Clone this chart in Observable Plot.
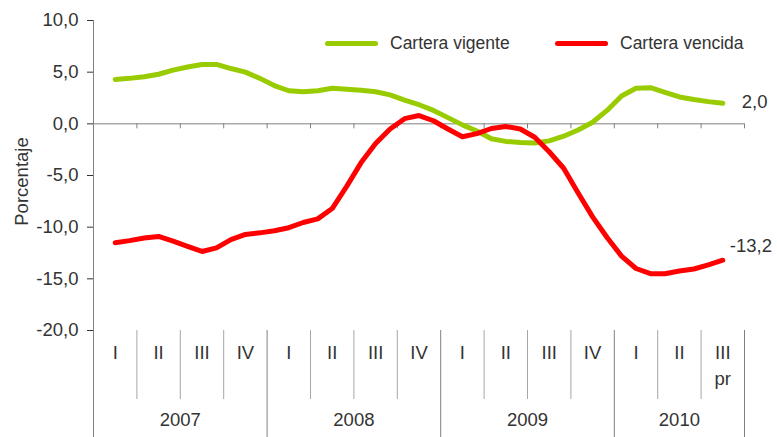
<!DOCTYPE html>
<html><head><meta charset="utf-8">
<script src="https://cdn.jsdelivr.net/npm/d3@7"></script>
<script src="https://cdn.jsdelivr.net/npm/@observablehq/plot@0.6"></script>
<style>
body{margin:0;background:#fff;}
#chart{position:relative;width:777px;height:437px;font-family:"Liberation Sans",Arial,sans-serif;}
#chart svg{display:block;overflow:visible;}
.leg{position:absolute;top:33px;height:20px;display:flex;align-items:center;font-size:17.5px;color:#333;white-space:nowrap;}
.leg .sw{display:inline-block;width:53px;height:5px;border-radius:3px;margin-right:12px;}
</style></head><body><div id="chart"></div>
<script>
// monthly values, Feb 2007 .. Aug 2010 (plotted at the month's position within the quarter axis)
const vigente = [4.3, 4.4, 4.55, 4.8, 5.2, 5.5, 5.75, 5.75, 5.35, 5.0, 4.4, 3.7, 3.2, 3.1, 3.2, 3.45, 3.35, 3.25, 3.1, 2.8, 2.3, 1.85, 1.3, 0.6, -0.1, -0.7, -1.45, -1.7, -1.8, -1.85, -1.65, -1.2, -0.6, 0.15, 1.3, 2.7, 3.45, 3.5, 3.05, 2.6, 2.35, 2.15, 2.0];
const vencida = [-11.5, -11.3, -11.05, -10.9, -11.35, -11.85, -12.35, -12.0, -11.2, -10.7, -10.55, -10.35, -10.05, -9.55, -9.2, -8.2, -6.05, -3.75, -1.9, -0.5, 0.5, 0.8, 0.3, -0.5, -1.25, -0.95, -0.45, -0.25, -0.5, -1.3, -2.7, -4.3, -6.7, -9.0, -11.0, -12.8, -14.0, -14.5, -14.5, -14.25, -14.05, -13.65, -13.2];
const seriesNames = ["Cartera vigente", "Cartera vencida"];
const seriesColors = ["#99CC00", "#FF0000"];
const quarterLabels = ["I","II","III","IV","I","II","III","IV","I","II","III","IV","I","II","III"];
const quarterNotes = ["","","","","","","","","","","","","","","pr"];
const years = ["2007","2008","2009","2010"];
const yearQuarterCounts = [4,4,4,3];
const yTicks = [10, 5, 0, -5, -10, -15, -20];
const yLabel = "Porcentaje";

const fmt = d => d.toFixed(1).replace(".", ",");
const monthX = i => 0.5 + i / 3; // position in quarter units
const rows = [
  ...vigente.map((v, i) => ({x: monthX(i), y: v, s: seriesNames[0]})),
  ...vencida.map((v, i) => ({x: monthX(i), y: v, s: seriesNames[1]}))
];
const nQ = quarterLabels.length;
const yearStarts = [];
{ let acc = 0; for (const c of yearQuarterCounts) { yearStarts.push(acc); acc += c; } }
const yearBounds = yearStarts.slice(1).concat([nQ]);
const innerBounds = d3.range(1, nQ).filter(b => !yearStarts.includes(b));
const allBounds = d3.range(1, nQ + 1);
const lastV = {x: monthX(vigente.length - 1), y: vigente[vigente.length - 1]};
const lastR = {x: monthX(vencida.length - 1), y: vencida[vencida.length - 1]};

const plot = Plot.plot({
  width: 777, height: 437,
  marginLeft: 93, marginRight: 33, marginTop: 20, marginBottom: 107,
  x: {domain: [0, nQ], axis: null},
  y: {domain: [-20, 10], ticks: yTicks, tickFormat: fmt, tickSize: 6, tickPadding: 9, label: null},
  color: {domain: seriesNames, range: seriesColors},
  style: {fontFamily: "Liberation Sans, Arial, sans-serif", fontSize: "18.5px", color: "#333", background: "white", overflow: "visible"},
  marks: [
    Plot.ruleX([0], {stroke: "#808080", insetBottom: -107}),
    Plot.ruleY([0], {stroke: "#808080"}),
    Plot.ruleX(allBounds, {x: d => d, y1: 0, y2: 0, insetBottom: -5, stroke: "#808080"}),
    Plot.ruleX(innerBounds, {x: d => d, insetTop: 310, insetBottom: -69, stroke: "#a6a6a6"}),
    Plot.ruleX(yearBounds, {x: d => d, insetTop: 310, insetBottom: -107, stroke: "#808080"}),
    Plot.text(quarterLabels, {x: (d, i) => i + 0.5, text: d => d, frameAnchor: "bottom", dy: 28, fill: "#333"}),
    Plot.text(quarterNotes, {x: (d, i) => i + 0.5, text: d => d, frameAnchor: "bottom", dy: 54, fill: "#333"}),
    Plot.text(years, {x: (d, i) => yearStarts[i] + yearQuarterCounts[i] / 2, text: d => d, frameAnchor: "bottom", dy: 95, fill: "#333"}),
    Plot.text([yLabel], {text: d => d, frameAnchor: "left", rotate: -90, dx: -71, dy: 6, textAnchor: "middle", fill: "#333"}),
    Plot.line(rows, {x: "x", y: "y", z: "s", stroke: "s", strokeWidth: 5, strokeLinejoin: "round", strokeLinecap: "round"}),
    Plot.text([lastV], {x: "x", y: "y", text: d => fmt(d.y), textAnchor: "start", dx: 19, dy: -1, fill: "#333"}),
    Plot.text([lastR], {x: "x", y: "y", text: d => fmt(d.y), textAnchor: "start", dx: 7, dy: -14, fill: "#333"})
  ]
});
const chart = document.getElementById("chart");
chart.appendChild(plot);
const legPos = [325, 555];
seriesNames.forEach((n, i) => {
  const el = document.createElement("div");
  el.className = "leg";
  el.style.left = legPos[i] + "px";
  el.innerHTML = `<span class="sw" style="background:${seriesColors[i]}"></span><span>${n}</span>`;
  chart.appendChild(el);
});
</script>
</body></html>
